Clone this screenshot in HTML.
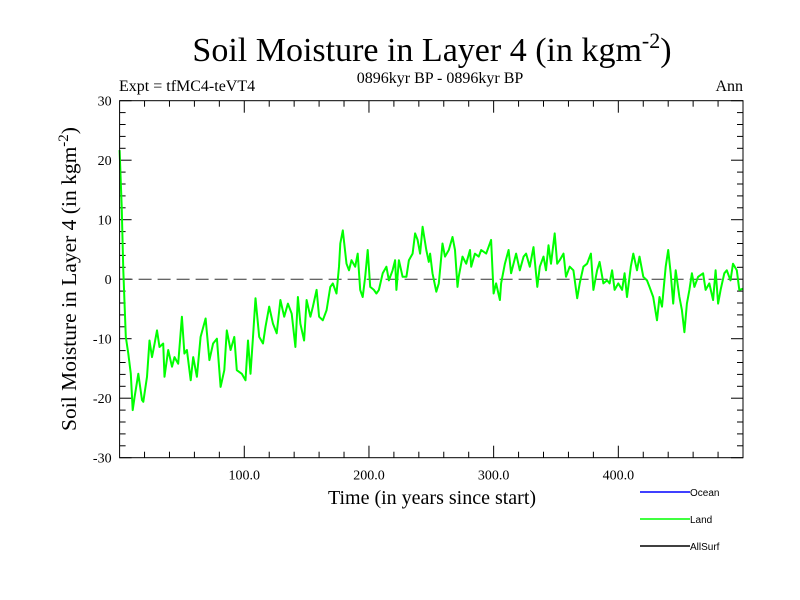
<!DOCTYPE html>
<html><head><meta charset="utf-8"><style>
html,body{margin:0;padding:0;background:#fff;}
svg{display:block;font-family:"Liberation Serif",serif;}
</style></head><body>
<svg id="chart" width="800" height="600" viewBox="0 0 800 600">
<text x="432" y="61" font-size="34" text-anchor="middle">Soil Moisture in Layer 4 (in kgm<tspan dy="-13" font-size="22">-2</tspan><tspan dy="13">)</tspan></text>
<text x="119" y="91" font-size="16">Expt = tfMC4-teVT4</text>
<text x="440" y="83" font-size="16" text-anchor="middle">0896kyr BP - 0896kyr BP</text>
<text x="743" y="91" font-size="16" text-anchor="end">Ann</text>
<text transform="translate(76,279) rotate(-90)" font-size="21.5" text-anchor="middle">Soil Moisture in Layer 4 (in kgm<tspan dy="-8" font-size="15">-2</tspan><tspan dy="8">)</tspan></text>
<text x="432" y="504" font-size="20" text-anchor="middle">Time (in years since start)</text>
<g id="axes"></g>
<g id="series"></g>
<rect x="119.6" y="100.7" width="623.4" height="357" fill="none" stroke="#000" stroke-width="1"/>
<g font-family="Liberation Sans, sans-serif" font-size="10">
<line x1="640" y1="492" x2="690" y2="492" stroke="#0000ff" stroke-width="1.5"/>
<text x="690" y="496">Ocean</text>
<line x1="640" y1="519" x2="690" y2="519" stroke="#00ff00" stroke-width="1.5"/>
<text x="690" y="523">Land</text>
<line x1="640" y1="546" x2="690" y2="546" stroke="#000" stroke-width="1.5"/>
<text x="690" y="550">AllSurf</text>
</g>
</svg>
<script>
const years = [0,1.7,3,5,7,9,10.5,12,15,18,19,22,24,26,28,30,32,35,36,39,42,44,47,50,52,54,57,59,62,65,69,72,75,78,81,84,86,89,92,94,98,101,103,105,107,109,112,115,117,120,123,126,129,132,135,138,141,143,145,148,150,153,155,158,160,163,166,169,171,174,176,177,179,182,184,186,189,191,193,195,197,199,201,204,206,208,211,214,216,219,221,222,224,227,230,232,235,237,239,241,243,246,248,
249,251,254,256,259,261,264,267,269,271,272,275,278,281,282,285,288,290,294,298,300,302,305,306,309,312,314,318,321,324,326,329,332,335,337,340,342,344,346,349,351,353,356,358,361,364,367,369,372,375,378,380,383,385,388,391,393,395,397,400,403,405,407,410,412,415,417,420,423,425,428,431,433,435,438,440,442,444,446,449,451,453,455,457,459,461,464,468,470,473,476,478,480,482,485,487,490,492,495,497,500];
const landValues = [21.7,12.2,1.5,-9.7,-12.5,-15.9,-22,-19.8,-15.9,-20.3,-20.6,-16.4,-10.3,-13.1,-10.9,-8.6,-11.4,-10.8,-16.4,-11.9,-14.7,-13.1,-14.2,-6.3,-12.5,-11.9,-17,-13.1,-16.4,-9.7,-6.6,-13.6,-10.8,-10,-18.1,-15.3,-8.6,-11.9,-9.7,-15.3,-15.9,-17,-10.3,-15.9,-9.7,-3.2,-9.7,-10.8,-8,-4.6,-7.5,-9.1,-3.5,-6.3,-4.1,-5.8,-11.4,-3,-7.5,-10.3,-3.5,-6.3,-4.6,-1.8,-6.3,-6.9,-5.2,-1.3,-0.7,-2.4,2.1,6,8.2,2.6,1.5,3.2,2.1,4.3,-1.8,-3,0.4,4.9,-1.3,-1.8,-2.4,-1.8,1,2.1,-0.2,1.5,3.2,-1.8,3.2,0.4,0.4,3.2,4.3,7.7,6.6,4.3,8.8,4.9,2.9,
4.3,1,-2.1,-0.7,6,3.8,4.9,7.1,4.9,-1.3,0.4,3.8,2.6,4.9,2.1,4.3,3.8,4.9,4.3,6.6,-2.4,-0.7,-3.5,-0.7,2.6,4.9,1,4.3,1.5,3.8,4.3,2.1,5.4,-1.3,2.1,3.8,1.5,5.7,2.6,7.7,2.6,3.2,4.3,0.4,2.1,1.5,-3.2,-0.7,2.1,2.6,4.3,-1.8,1.5,2.9,-0.7,-0.2,-0.7,1.5,-1.8,-0.7,-1.8,1,-3,2.1,4.3,1.5,3.8,0.4,-0.2,-1.3,-3,-6.9,-3,-4.6,2.1,4.9,1,-4.1,1.5,-3,-5.2,-8.9,-4.1,-1.8,1,-1.3,0.4,1,-1.8,-0.7,-3.5,1.5,-4.1,-1.8,1,1.5,-0.2,2.6,1.5,-1.8,-1.6];
const yTicks = [-30,-20,-10,0,10,20,30];
const yTickLabels = ["-30","-20","-10","0","10","20","30"];
const xTicks = [100,200,300,400];
const xTickLabels = ["100.0","200.0","300.0","400.0"];

const L=119.6,R=743,T=100.7,B=457.7,XMIN=0,XMAX=500,YMIN=-30,YMAX=30;
const xs=v=>L+(v-XMIN)/(XMAX-XMIN)*(R-L);
const ys=v=>B-(v-YMIN)/(YMAX-YMIN)*(B-T);
const NS='http://www.w3.org/2000/svg';
const axes=document.getElementById('axes');
function mk(tag,attrs,parent){const e=document.createElementNS(NS,tag);for(const k in attrs)e.setAttribute(k,attrs[k]);parent.appendChild(e);return e;}
for(let v=YMIN;v<=YMAX;v+=2){
  const major=v%10===0, len=major?12:6;
  const a=mk('line',{x1:L,x2:L+len,y1:ys(v),y2:ys(v),stroke:'#000'},axes);
  
  
  const b=mk('line',{x1:R,x2:R-len,y1:ys(v),y2:ys(v),stroke:'#000'},axes);
  
  
}
for(let v=20;v<XMAX;v+=20){
  const major=v%100===0, len=major?12:6;
  const a=mk('line',{x1:xs(v),x2:xs(v),y1:B,y2:B-len,stroke:'#000'},axes);
  
  
  const b=mk('line',{x1:xs(v),x2:xs(v),y1:T,y2:T+len,stroke:'#000'},axes);
  
  
}
yTicks.forEach((v,i)=>{
  const t=mk('text',{x:L-8,y:ys(v)+5,'font-size':14,'text-anchor':'end'},axes);
  t.textContent=yTickLabels[i];
  
  
});
xTicks.forEach((v,i)=>{
  const t=mk('text',{x:xs(v),y:B+22,'font-size':14,'text-anchor':'middle'},axes);
  t.textContent=xTickLabels[i];
  
  
});
const zl=mk('line',{x1:L,x2:R,y1:ys(0),y2:ys(0),stroke:'#333','stroke-dasharray':'13,6'},axes);


const pts=years.map((y,i)=>xs(y).toFixed(1)+','+ys(landValues[i]).toFixed(1)).join(' ');
const pl=mk('polyline',{points:pts,fill:'none',stroke:'#00ff00','stroke-width':2,'stroke-linejoin':'round'},document.getElementById('series'));


</script>
</body></html>
